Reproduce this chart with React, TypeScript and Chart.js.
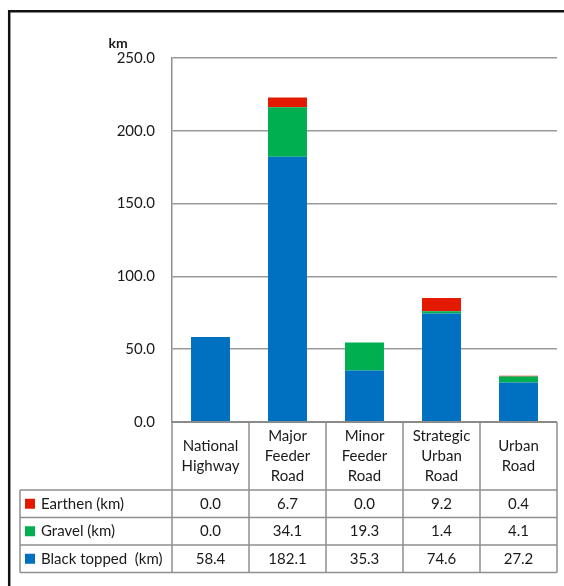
import React, { useEffect, useRef } from "react";
import { Chart, registerables } from "chart.js";

Chart.register(...registerables);

const categories: string[][] = [
  ["National", "Highway"],
  ["Major", "Feeder", "Road"],
  ["Minor", "Feeder", "Road"],
  ["Strategic", "Urban", "Road"],
  ["Urban", "Road"],
];
const blackTopped = [58.4, 182.1, 35.3, 74.6, 27.2];
const gravel = [0.0, 34.1, 19.3, 1.4, 4.1];
const earthen = [0.0, 6.7, 0.0, 9.2, 0.4];
const seriesNames = ["Black topped  (km)", "Gravel (km)", "Earthen (km)"];
const seriesColors = ["#0070C0", "#00B050", "#E31A00"];
const yMax = 250;
const yStep = 50;
const yUnit = "km";

const FONT = "Lato, 'Open Sans', sans-serif";

const tablePlugin = {
  id: "dataTable",
  beforeDraw(chart: any) {
    const ctx = chart.ctx;
    ctx.save();
    ctx.fillStyle = "#ffffff";
    ctx.fillRect(0, 0, chart.width, chart.height);
    ctx.strokeStyle = "#111111";
    ctx.lineWidth = 2.5;
    ctx.beginPath();
    ctx.moveTo(9.2, chart.height + 5);
    ctx.lineTo(9.2, 11.2);
    ctx.lineTo(chart.width + 5, 11.2);
    ctx.stroke();
    ctx.restore();
  },
  afterDraw(chart: any) {
    const ctx = chart.ctx;
    const area = chart.chartArea;
    const xs = chart.scales.x;
    const n = categories.length;
    const colW = (area.right - area.left) / n;
    const y0 = area.bottom;
    const headerH = 68;
    const rowH = 27.5;
    const legendLeft = 20;
    const rows = [
      { name: seriesNames[2], color: seriesColors[2], data: earthen },
      { name: seriesNames[1], color: seriesColors[1], data: gravel },
      { name: seriesNames[0], color: seriesColors[0], data: blackTopped },
    ];
    const bottom = y0 + headerH + rowH * rows.length;
    ctx.save();
    ctx.strokeStyle = "#8f8f8f";
    ctx.lineWidth = 1.5;
    ctx.beginPath();
    for (let i = 0; i <= n; i++) {
      const x = area.left + i * colW;
      ctx.moveTo(x, y0);
      ctx.lineTo(x, bottom);
    }
    ctx.moveTo(legendLeft, y0 + headerH);
    ctx.lineTo(legendLeft, bottom);
    for (let r = 0; r <= rows.length; r++) {
      const y = y0 + headerH + r * rowH;
      ctx.moveTo(legendLeft, y);
      ctx.lineTo(area.right, y);
    }
    ctx.stroke();
    ctx.strokeStyle = "#8a8a8a";
    ctx.lineWidth = 2;
    ctx.beginPath();
    ctx.moveTo(area.left, y0);
    ctx.lineTo(area.right, y0);
    ctx.stroke();

    ctx.fillStyle = "#1a1a1a";
    ctx.font = `15px ${FONT}`;
    ctx.textAlign = "center";
    ctx.textBaseline = "middle";
    categories.forEach((lines, i) => {
      const cx = xs.getPixelForValue(i);
      const cy = y0 + headerH / 2;
      lines.forEach((ln, k) => {
        ctx.fillText(ln, cx, cy + (k - (lines.length - 1) / 2) * 20);
      });
    });
    rows.forEach((row, r) => {
      const cy = y0 + headerH + r * rowH + rowH / 2;
      ctx.fillStyle = row.color;
      ctx.fillRect(25, cy - 5, 10, 10);
      ctx.fillStyle = "#1a1a1a";
      ctx.textAlign = "left";
      ctx.fillText(row.name, 41, cy);
      ctx.textAlign = "center";
      row.data.forEach((v, i) => {
        ctx.fillText(v.toFixed(1), xs.getPixelForValue(i), cy);
      });
    });
    ctx.font = `bold 14px ${FONT}`;
    ctx.textAlign = "center";
    ctx.fillText(yUnit, 118, 43);
    ctx.restore();
  },
};

export default function App() {
  const ref = useRef<HTMLCanvasElement | null>(null);
  useEffect(() => {
    if (!ref.current) return;
    const chart = new Chart(ref.current, {
      type: "bar",
      data: {
        labels: categories.map((c) => c.join(" ")),
        datasets: [
          { label: seriesNames[0], data: blackTopped, backgroundColor: seriesColors[0] },
          { label: seriesNames[1], data: gravel, backgroundColor: seriesColors[1] },
          { label: seriesNames[2], data: earthen, backgroundColor: seriesColors[2] },
        ],
      },
      options: {
        responsive: false,
        animation: false,
        layout: { padding: { left: 0, right: 7, top: 58, bottom: 164 } },
        datasets: { bar: { barPercentage: 1, categoryPercentage: 0.506, borderWidth: 0 } },
        plugins: { legend: { display: false }, tooltip: { enabled: false } },
        scales: {
          x: { stacked: true, display: false },
          y: {
            stacked: true,
            min: 0,
            max: yMax,
            afterFit: (s: any) => {
              s.width = 172;
            },
            border: { display: true, color: "#8f8f8f", width: 1.5 },
            grid: { color: "#9a9a9a", lineWidth: 1.5, tickLength: 0 },
            ticks: {
              stepSize: yStep,
              padding: 17,
              color: "#1a1a1a",
              font: { family: FONT, size: 15 },
              callback: (v: any) => Number(v).toFixed(1),
            },
          },
        },
      },
      plugins: [tablePlugin],
    });
    return () => chart.destroy();
  }, []);
  return (
    <canvas
      ref={ref}
      width={564}
      height={586}
      style={{ position: "absolute", left: 0, top: 0, width: 564, height: 586 }}
    />
  );
}
